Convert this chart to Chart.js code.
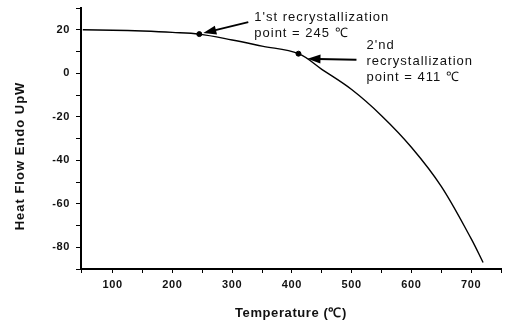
<!DOCTYPE html>
<html>
<head>
<meta charset="utf-8">
<script src="https://cdn.jsdelivr.net/npm/chart.js@4/dist/chart.umd.min.js"></script>
<style>
  html, body { margin: 0; padding: 0; background: #fff; }
  #wrap { width: 506px; height: 321px; }
</style>
</head>
<body>
<div id="wrap"><canvas id="dsc"></canvas></div>
<script>
// heat flow curve
const temperature = [50, 100, 150, 200, 245, 300, 350, 411, 450, 500, 550, 600, 650, 700, 720];
const heatFlow = [20.0, 19.8, 19.4, 18.8, 18.0, 15.3, 12.5, 9.0, 1.8, -7.5, -19.5, -34.0, -52.0, -76.0, -87.0];

// recrystallization points
const recrystTemp = [245, 411];
const recrystFlow = [18.0, 9.0];

const xTickLabels = [100, 200, 300, 400, 500, 600, 700];
const yTickLabels = [20, 0, -20, -40, -60, -80];

const FONT = '"Liberation Sans", Arial, sans-serif';

// wider letter spacing like the scanned figure
const spacing = {
    id: 'spacing',
    beforeUpdate(chart) { chart.ctx.letterSpacing = '0.6px'; },
    beforeDraw(chart) { chart.ctx.letterSpacing = '0.6px'; }
};

// y title, text + arrows next to the two points
const notes = {
    id: 'notes',
    afterDraw(chart) {
        const ctx = chart.ctx;
        const xs = chart.scales.x, ys = chart.scales.y;
        const px = v => xs.getPixelForValue(v);
        const py = v => ys.getPixelForValue(v);

        function arrow(x1, y1, x2, y2) {
            const a = Math.atan2(y2 - y1, x2 - x1);
            const len = 13, half = 4.5;
            ctx.save();
            ctx.strokeStyle = '#000';
            ctx.fillStyle = '#000';
            ctx.lineWidth = 2;
            ctx.beginPath();
            ctx.moveTo(x1, y1);
            ctx.lineTo(x2 - Math.cos(a) * len * 0.8, y2 - Math.sin(a) * len * 0.8);
            ctx.stroke();
            ctx.beginPath();
            ctx.moveTo(x2, y2);
            ctx.lineTo(x2 - Math.cos(a) * len - Math.sin(a) * half, y2 - Math.sin(a) * len + Math.cos(a) * half);
            ctx.lineTo(x2 - Math.cos(a) * len + Math.sin(a) * half, y2 - Math.sin(a) * len - Math.cos(a) * half);
            ctx.closePath();
            ctx.fill();
            ctx.restore();
        }

        ctx.save();
        ctx.fillStyle = '#111';
        ctx.textBaseline = 'middle';

        // y axis title
        ctx.save();
        ctx.letterSpacing = '1px';
        ctx.font = 'bold 13px ' + FONT;
        ctx.textAlign = 'center';
        ctx.translate(20, 156);
        ctx.rotate(-Math.PI / 2);
        ctx.fillText('Heat Flow Endo UpW', 0, 0);
        ctx.restore();

        ctx.letterSpacing = '1px';
        ctx.font = '13px ' + FONT;
        ctx.textAlign = 'left';

        const p1x = px(recrystTemp[0]), p1y = py(recrystFlow[0]);
        arrow(p1x + 49, p1y - 12, p1x + 4, p1y - 1);
        ctx.fillText("1'st recrystallization", p1x + 55, p1y - 17);
        ctx.fillText('point = 245 \u2103', p1x + 55, p1y - 1);

        const p2x = px(recrystTemp[1]), p2y = py(recrystFlow[1]);
        arrow(p2x + 58, p2y + 6, p2x + 9, p2y + 5);
        ctx.fillText("2'nd", p2x + 68, p2y - 8);
        ctx.fillText('recrystallization', p2x + 68, p2y + 8);
        ctx.fillText('point = 411 \u2103', p2x + 68, p2y + 24);
        ctx.restore();
    }
};

new Chart(document.getElementById('dsc').getContext('2d'), {
    type: 'line',
    data: {
        datasets: [{
            data: temperature.map((t, i) => ({ x: t, y: heatFlow[i] })),
            borderColor: '#000',
            borderWidth: 1.4,
            pointRadius: 0,
            tension: 0.35,
            fill: false
        }, {
            data: recrystTemp.map((t, i) => ({ x: t, y: recrystFlow[i] })),
            showLine: false,
            pointRadius: 2.5,
            pointBackgroundColor: '#000',
            pointBorderColor: '#000'
        }]
    },
    options: {
        responsive: true,
        maintainAspectRatio: false,
        animation: false,
        layout: { padding: { top: 8, right: 0, left: 0, bottom: 0 } },
        plugins: { legend: { display: false }, tooltip: { enabled: false } },
        scales: {
            x: {
                type: 'linear',
                min: 47,
                max: 750,
                afterFit(s) { s.height = 52; s.paddingLeft = 0; s.paddingRight = 0; },
                border: { color: '#000', width: 2 },
                grid: { drawOnChartArea: false, color: '#000', tickLength: 4 },
                ticks: {
                    stepSize: 50,
                    padding: 5,
                    color: '#111',
                    font: { family: FONT, size: 11, weight: 'bold' },
                    callback: v => xTickLabels.includes(v) ? String(v) : ''
                },
                title: {
                    display: true,
                    text: 'Temperature (\u2103)',
                    color: '#111',
                    font: { family: FONT, size: 13, weight: 'bold' },
                    padding: { top: 12, bottom: 0 }
                }
            },
            y: {
                min: -90,
                max: 30,
                afterFit(s) { s.width = 81; s.paddingTop = 0; s.paddingBottom = 0; },
                border: { color: '#000', width: 2 },
                grid: { drawOnChartArea: false, color: '#000', tickLength: 5 },
                ticks: {
                    stepSize: 10,
                    padding: 6,
                    color: '#111',
                    font: { family: FONT, size: 11, weight: 'bold' },
                    callback: v => yTickLabels.includes(v) ? String(v) : ''
                }
            }
        }
    },
    plugins: [spacing, notes]
});
</script>
</body>
</html>
